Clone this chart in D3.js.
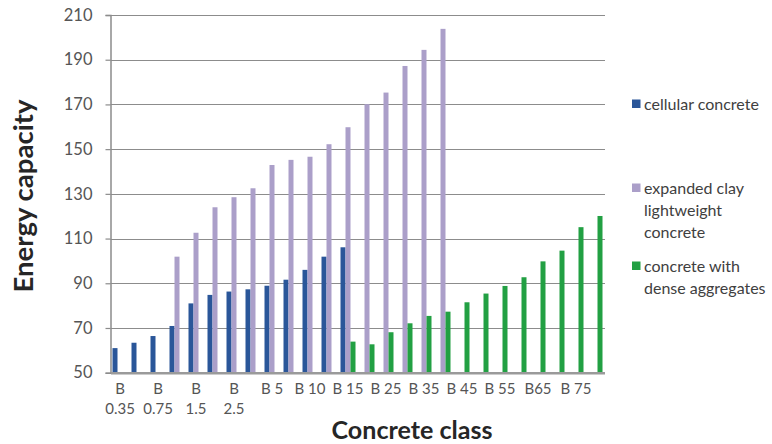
<!DOCTYPE html>
<html>
<head>
<meta charset="utf-8">
<script src="https://cdn.jsdelivr.net/npm/d3@7"></script>
<style>
  html, body { margin: 0; padding: 0; background: #fff; }
  svg { display: block; font-family: Lato, "Open Sans", sans-serif; }
</style>
</head>
<body>
<svg id="chart" width="772" height="444"></svg>
<script>
// ---- data ----
const categories = ["B 0.35","B 0.5","B 0.75","B 1","B 1.5","B 2","B 2.5","B 3.5","B 5","B 7.5",
  "B 10","B 12.5","B 15","B 20","B 25","B 30","B 35","B 40","B 45","B 50","B 55","B 60","B 65","B 70","B 75","B 80"];
// tick labels shown (every other category), "\n" = line break
const tickLabels = ["B\n0.35","","B\n0.75","","B\n1.5","","B\n2.5","","B 5","","B 10","","B 15","","B 25","","B 35","","B 45","","B 55","","B65","","B 75",""];
const seriesNames = ["cellular concrete", "expanded clay lightweight concrete", "concrete with dense aggregates"];
const cellular = [61, 63.4, 66.4, 70.9, 81, 84.8, 86.3, 87.3, 88.9, 91.6, 96, 101.9, 106.1,
  null, null, null, null, null, null, null, null, null, null, null, null, null];
const expandedClay = [null, null, null, 101.9, 112.6, 124, 128.5, 132.5, 142.9, 145.2, 146.6, 152.2, 159.8,
  170.1, 175.3, 187.2, 194.4, 203.8, null, null, null, null, null, null, null, null];
const dense = [null, null, null, null, null, null, null, null, null, null, null, null, 63.9,
  62.7, 68.1, 72.1, 75.4, 77.3, 81.5, 85.4, 88.8, 92.7, 99.8, 104.6, 115.1, 120.1];
const yTicks = [50, 70, 90, 110, 130, 150, 170, 190, 210];
const colors = ["#2a5699", "#ab9fc9", "#22a043"];
const legendLines = [["cellular concrete"], ["expanded clay", "lightweight", "concrete"], ["concrete with", "dense aggregates"]];

// ---- layout ----
const svg = d3.select("#chart");
const plot = { left: 110.5, right: 604.5, top: 15, bottom: 372.7 };

const x = d3.scaleBand().domain(categories).range([plot.left, plot.right]).paddingInner(0).paddingOuter(0);
const xs = d3.scaleBand().domain([0, 1, 2]).range([0, 15]);
const y = d3.scaleLinear().domain([50, 210]).range([plot.bottom, plot.top]);

// gridlines
svg.append("g").selectAll("line").data(yTicks.filter(t => t > 50)).join("line")
  .attr("x1", plot.left).attr("x2", plot.right + 0.5)
  .attr("y1", d => Math.round(y(d)) + 0.5).attr("y2", d => Math.round(y(d)) + 0.5)
  .attr("stroke", "#8c8c8c").attr("stroke-width", 1.2);

// bars
const series = [cellular, expandedClay, dense];
const bandOffset = (x.bandwidth() - 15) / 2;
series.forEach((vals, si) => {
  svg.append("g").selectAll("rect")
    .data(vals.map((v, i) => ({ v, c: categories[i] })).filter(d => d.v != null))
    .join("rect")
    .attr("x", d => x(d.c) + bandOffset + xs(si))
    .attr("width", xs.bandwidth())
    .attr("y", d => y(d.v))
    .attr("height", d => y(50) - y(d.v))
    .attr("fill", colors[si]);
});

// y axis
const yAxis = d3.axisLeft(y).tickValues(yTicks).tickSize(5).tickPadding(13).tickFormat(d3.format("d"));
const gy = svg.append("g").attr("transform", `translate(${plot.left},0)`).call(yAxis);
gy.select(".domain").attr("stroke", "#8c8c8c").attr("stroke-width", 1.5);
gy.selectAll(".tick line").attr("stroke", "#8c8c8c").attr("stroke-width", 1.2);
gy.selectAll(".tick text").attr("font-size", 16.5).attr("fill", "#555").attr("font-family", "Lato");

// x axis
const xAxis = d3.axisBottom(x).tickSize(0).tickPadding(0).tickFormat((d, i) => tickLabels[i]);
const gx = svg.append("g").attr("transform", `translate(0,${plot.bottom})`).call(xAxis);
gx.select(".domain").attr("stroke", "#9a9a9a").attr("stroke-width", 2.5);
gx.selectAll(".tick text").each(function (d, i) {
  const t = d3.select(this);
  const lines = tickLabels[i].split("\n");
  t.text(null).attr("font-size", 15).attr("fill", "#555").attr("font-family", "Lato").attr("dy", null).attr("y", 0);
  lines.forEach((ln, k) => {
    t.append("tspan").attr("x", 0).attr("y", 21 + k * 20).text(ln);
  });
});

// fit helper
function fit(sel, target) {
  const w = sel.node().getComputedTextLength();
  const fs = parseFloat(sel.attr("font-size"));
  sel.attr("font-size", fs * target / w);
}

// axis titles
const xt = svg.append("text").attr("x", 412).attr("y", 439).attr("text-anchor", "middle")
  .attr("font-size", 26).attr("font-weight", "bold").attr("fill", "#262626").text("Concrete class");
fit(xt, 161);
const yt = svg.append("text").attr("transform", "translate(33,196) rotate(-90)").attr("text-anchor", "middle")
  .attr("font-size", 26).attr("font-weight", "bold").attr("fill", "#262626").text("Energy capacity");
fit(yt, 193);

// legend
const legendY = [104, 188, 266];
const lg = svg.append("g");
legendLines.forEach((lines, i) => {
  lg.append("rect").attr("x", 632).attr("y", legendY[i] - 4.5).attr("width", 8.5).attr("height", 8.5).attr("fill", colors[i]);
  lines.forEach((ln, k) => {
    lg.append("text").attr("x", 644).attr("y", legendY[i] + k * 22).attr("dy", "0.35em")
      .attr("font-size", 16).attr("fill", "#404040").text(ln);
  });
});
</script>
</body>
</html>
